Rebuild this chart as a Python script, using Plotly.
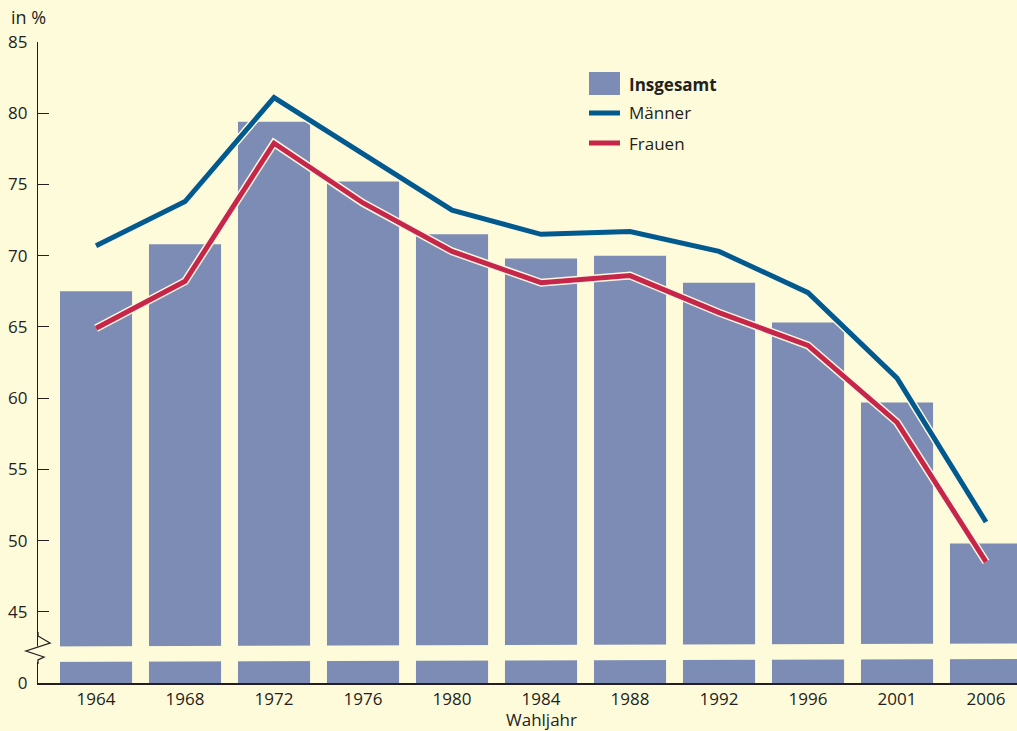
import plotly.graph_objects as go

years = ["1964", "1968", "1972", "1976", "1980", "1984", "1988", "1992", "1996", "2001", "2006"]
insgesamt = [67.5, 70.8, 79.4, 75.2, 71.5, 69.8, 70.0, 68.1, 65.3, 59.7, 49.8]
maenner = [70.7, 73.8, 81.1, 77.1, 73.2, 71.5, 71.7, 70.3, 67.4, 61.4, 51.3]
frauen = [64.9, 68.2, 77.9, 73.7, 70.3, 68.1, 68.6, 66.0, 63.7, 58.3, 48.5]
ytick_vals = [40, 45, 50, 55, 60, 65, 70, 75, 80, 85]
ytick_text = ["0", "45", "50", "55", "60", "65", "70", "75", "80", "85"]

BG = "#FEFBDA"
BAR = "#7D8CB4"
BLUE = "#005A8E"
RED = "#C6264A"
TXT = "#231F20"
FONT = "Open Sans"
FS = 17

W, H = 1017, 731
L, R, T, B = 38, 0, 42, 48
x = list(range(len(years)))

def px(p):
    return (p - L) / (W - L - R)

def py(p):
    return (H - B - p) / (H - T - B)

fig = go.Figure()
fig.add_trace(go.Bar(x=x, y=[v - 40 for v in insgesamt], base=40, marker=dict(color=BAR, line=dict(width=0)),
                     hoverinfo="skip"))
for vals, col in [(maenner, BLUE), (frauen, RED)]:
    fig.add_trace(go.Scatter(x=x, y=vals, mode="lines", line=dict(color="#FFF8E0", width=8), hoverinfo="skip"))
    fig.add_trace(go.Scatter(x=x, y=vals, mode="lines", line=dict(color=col, width=5), name=""))

shapes = []
# white band (axis break across bars)
shapes.append(dict(type="path", xref="paper", yref="paper",
                   path=f"M {px(30)} {py(646.5)} L 1.0 {py(643.5)} L 1.0 {py(659)} L {px(30)} {py(662)} Z",
                   fillcolor=BG, line=dict(width=0), layer="above"))
# zigzag break mark on y axis
shapes.append(dict(type="path", xref="paper", yref="paper",
                   path=(f"M {px(38)} {py(632)} L {px(38)} {py(636)} L {px(50)} {py(643)} "
                         f"L {px(26)} {py(651)} L {px(44)} {py(657)} L {px(38)} {py(660)} L {px(38)} {py(664)}"),
                   line=dict(color=TXT, width=1.3), layer="above"))
# legend
shapes.append(dict(type="rect", xref="paper", yref="paper", x0=px(589), x1=px(620), y0=py(95), y1=py(72),
                   fillcolor=BAR, line=dict(width=0)))
shapes.append(dict(type="line", xref="paper", yref="paper", x0=px(589), x1=px(620), y0=py(113), y1=py(113),
                   line=dict(color=BLUE, width=5)))
shapes.append(dict(type="line", xref="paper", yref="paper", x0=px(589), x1=px(620), y0=py(143), y1=py(143),
                   line=dict(color=RED, width=5)))

annotations = [
    dict(text="<b>Insgesamt</b>", x=px(627), y=py(84), xref="paper", yref="paper", xanchor="left", yanchor="middle",
         showarrow=False, font=dict(size=FS, color=TXT, family=FONT)),
    dict(text="Männer", x=px(627), y=py(113), xref="paper", yref="paper", xanchor="left", yanchor="middle",
         showarrow=False, font=dict(size=FS, color=TXT, family=FONT)),
    dict(text="Frauen", x=px(627), y=py(143), xref="paper", yref="paper", xanchor="left", yanchor="middle",
         showarrow=False, font=dict(size=FS, color=TXT, family=FONT)),
    dict(text="in %", x=px(9), y=py(17), xref="paper", yref="paper", xanchor="left", yanchor="middle",
         showarrow=False, font=dict(size=18, color=TXT, family=FONT)),
    dict(text="Wahljahr", x=5, y=py(719), xref="x", yref="paper", xanchor="center", yanchor="middle",
         showarrow=False, font=dict(size=FS, color=TXT, family=FONT)),
]

fig.update_layout(
    width=W, height=H,
    margin=dict(l=L, r=R, t=T, b=B, pad=0),
    paper_bgcolor=BG, plot_bgcolor=BG,
    showlegend=False,
    bargap=0.19,
    shapes=shapes, annotations=annotations,
    font=dict(family=FONT, size=FS, color=TXT),
    xaxis=dict(range=[-0.652, 10.348], tickmode="array", tickvals=x, ticktext=years, showgrid=False,
               zeroline=False, showline=True, linecolor=TXT, linewidth=1.5, ticks="", ticklen=0,
               tickfont=dict(size=FS, color=TXT, family=FONT), fixedrange=True),
    yaxis=dict(range=[40, 85], tickmode="array", tickvals=ytick_vals, ticktext=ytick_text, showgrid=False,
               zeroline=False, showline=True, linecolor=TXT, linewidth=1.3, ticks="inside", ticklen=11,
               tickcolor=TXT, tickwidth=1.3, ticklabelstandoff=6,
               tickfont=dict(size=FS, color=TXT, family=FONT), fixedrange=True),
)

fig.write_html("out.html", config={"displayModeBar": False},
               post_script="document.body.style.margin='0';document.body.style.overflow='hidden';")
